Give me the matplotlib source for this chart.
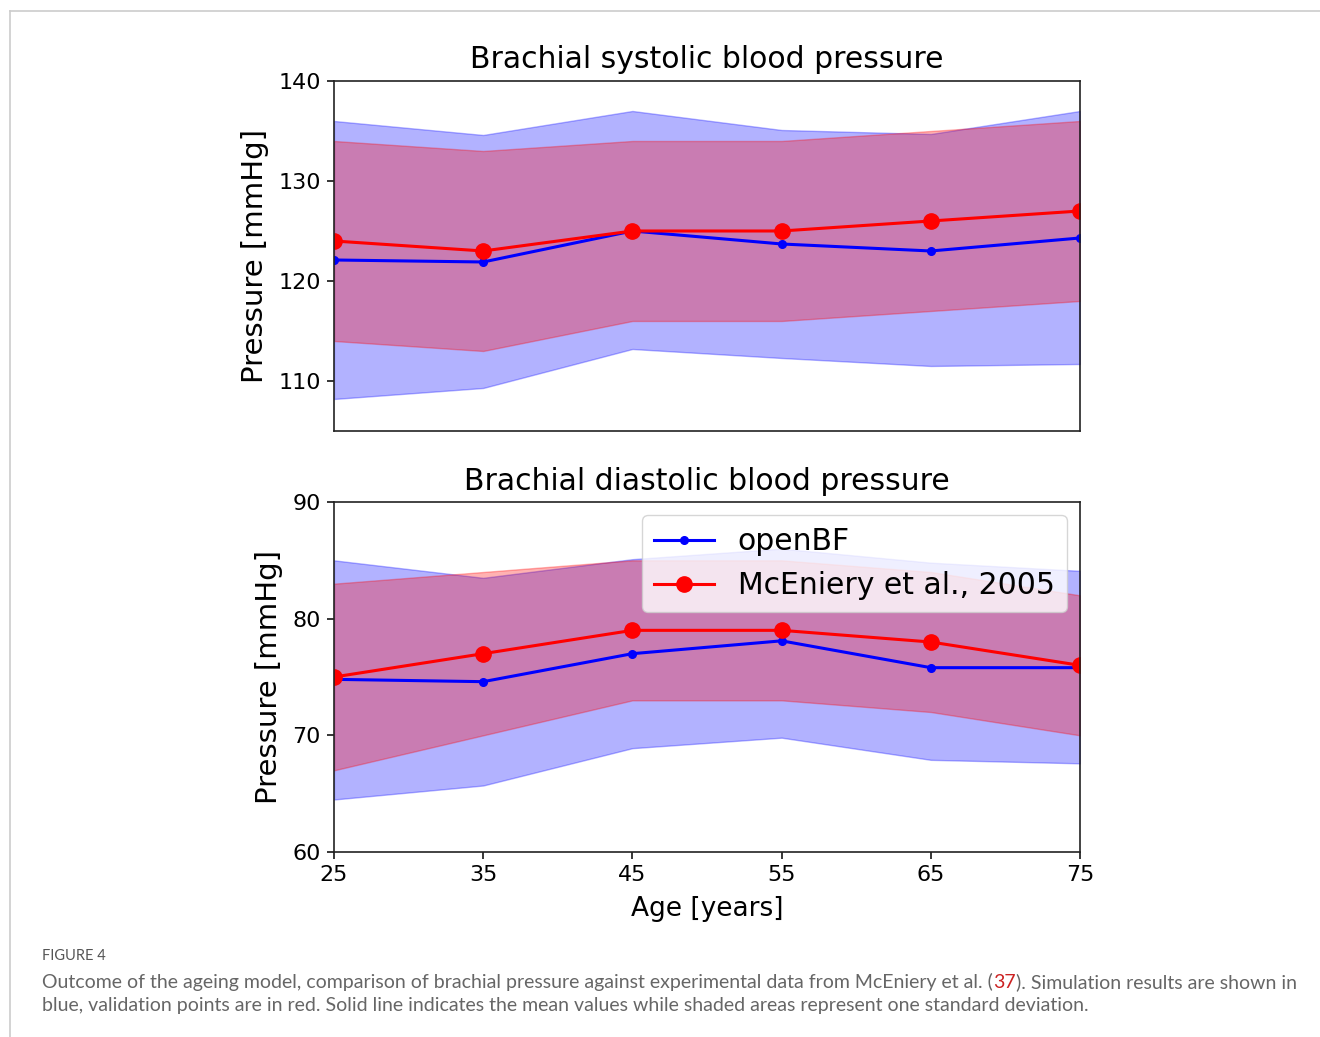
import numpy as np
import matplotlib
matplotlib.use("Agg")
import matplotlib.pyplot as plt
from matplotlib.lines import Line2D

# ================================================
# Data
# ================================================

ages = [25, 35, 45, 55, 65, 75]

# systolic
sys_model_mean = [122.1, 121.9, 125.0, 123.7, 123.0, 124.3]
sys_model_hi = [136.0, 134.6, 137.0, 135.1, 134.7, 137.0]
sys_model_lo = [108.2, 109.3, 113.2, 112.3, 111.5, 111.7]
sys_exp_mean = [124, 123, 125, 125, 126, 127]
sys_exp_hi = [134, 133, 134, 134, 135, 136]
sys_exp_lo = [114, 113, 116, 116, 117, 118]

# diastolic
dia_model_mean = [74.8, 74.6, 77.0, 78.1, 75.8, 75.8]
dia_model_hi = [85.0, 83.5, 85.1, 86.0, 84.8, 84.1]
dia_model_lo = [64.5, 65.7, 68.9, 69.8, 67.9, 67.6]
dia_exp_mean = [75, 77, 79, 79, 78, 76]
dia_exp_hi = [83, 84, 85, 85, 84, 82]
dia_exp_lo = [67, 70, 73, 73, 72, 70]

model_label = "openBF"
exp_label = "McEniery et al., 2005"

caption_head = "FIGURE 4"
caption_a = "Outcome of the ageing model, comparison of brachial pressure against experimental data from McEniery et al. ("
caption_ref = "37"
caption_b = "). Simulation results are shown in"
caption_line2 = ("blue, validation points are in red. Solid line indicates the mean values while "
                 "shaded areas represent one standard deviation.")

# ================================================
# Plot helpers
# ================================================

def draw_panel(ax, m_mean, m_lo, m_hi, e_mean, e_lo, e_hi):
    ax.fill_between(ages, m_lo, m_hi, color='b', alpha=0.3)
    ax.fill_between(ages, e_lo, e_hi, color='r', alpha=0.3)
    ax.plot(ages, m_mean, 'b.-', lw=2.2, ms=11, label=model_label)
    ax.plot(ages, e_mean, 'ro-', lw=2.2, ms=11, label=exp_label)
    ax.set_xlim(25, 75)
    ax.set_ylabel("Pressure [mmHg]", fontsize=21, labelpad=7)
    ax.tick_params(labelsize=16, width=1.1, length=5, pad=4.5)
    for s in ax.spines.values():
        s.set_linewidth(1.2)
        s.set_color('#222222')


fig = plt.figure(figsize=(13.2, 10.37), dpi=100)

ax1 = fig.add_axes([0.2530, 0.5844, 0.5652, 0.3375])
ax2 = fig.add_axes([0.2530, 0.1784, 0.5652, 0.3375])

draw_panel(ax1, sys_model_mean, sys_model_lo, sys_model_hi,
           sys_exp_mean, sys_exp_lo, sys_exp_hi)
ax1.set_ylim(105, 140)
ax1.set_yticks([110, 120, 130, 140])
ax1.set_xticks([])
ax1.set_title("Brachial systolic blood pressure", fontsize=21.5, pad=9)

draw_panel(ax2, dia_model_mean, dia_model_lo, dia_model_hi,
           dia_exp_mean, dia_exp_lo, dia_exp_hi)
ax2.set_ylim(60, 90)
ax2.set_yticks([60, 70, 80, 90])
ax2.set_xticks(ages)
ax2.set_xlabel("Age [years]", fontsize=19, labelpad=7.5)
ax2.set_title("Brachial diastolic blood pressure", fontsize=21.5, pad=9)
ax2.legend(loc='upper right', fontsize=21.5, handlelength=2.0,
           borderaxespad=0.45, framealpha=0.8)

# frame around the figure panel
fig.add_artist(Line2D([10 / 1320, 10 / 1320], [0, 1 - 11 / 1037],
                      transform=fig.transFigure, color='#cccccc', lw=1.2))
fig.add_artist(Line2D([10 / 1320, 1], [1 - 11 / 1037, 1 - 11 / 1037],
                      transform=fig.transFigure, color='#cccccc', lw=1.2))

# caption
cap_font = 'Lato'
grey = '#666666'
x0 = 42 / 1320
fig.text(x0, 1 - 956 / 1037, caption_head, fontsize=10.5, color='#555555',
         family=cap_font, va='center')
t1 = fig.text(x0, 1 - 982 / 1037, caption_a, fontsize=14, color=grey,
              family=cap_font, va='center')
fig.canvas.draw()
r = fig.canvas.get_renderer()
bb = t1.get_window_extent(r)
t2 = fig.text(bb.x1 / 1320, 1 - 982 / 1037, caption_ref, fontsize=14,
              color='#cc2222', family=cap_font, va='center')
bb2 = t2.get_window_extent(r)
fig.text(bb2.x1 / 1320, 1 - 982 / 1037, caption_b, fontsize=14, color=grey,
         family=cap_font, va='center')
fig.text(x0, 1 - 1006 / 1037, caption_line2, fontsize=14, color=grey,
         family=cap_font, va='center')

fig.savefig("out.png", dpi=100)
